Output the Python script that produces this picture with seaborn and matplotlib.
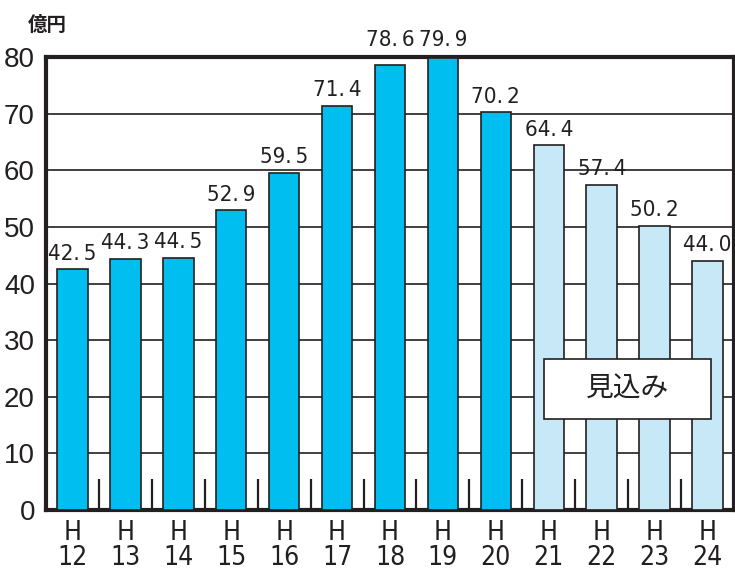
import pandas as pd
import matplotlib.pyplot as plt
import seaborn as sns
from matplotlib.patches import Rectangle
from matplotlib import font_manager

# data (億円)
years = ["H\n12", "H\n13", "H\n14", "H\n15", "H\n16", "H\n17", "H\n18",
         "H\n19", "H\n20", "H\n21", "H\n22", "H\n23", "H\n24"]
values = [42.5, 44.3, 44.5, 52.9, 59.5, 71.4, 78.6, 79.9, 70.2, 64.4, 57.4, 50.2, 44.0]
status = ["実績"] * 9 + ["見込み"] * 4

df = pd.DataFrame({"year": years, "value": values, "status": status})

sns.set_style("white")
plt.rcParams["font.family"] = ["Liberation Sans", "DejaVu Sans"]

# condensed face for the numbers
cond = [f for f in font_manager.fontManager.ttflist
        if "DejaVuSansCondensed.ttf" in f.fname]
cond_fp = (font_manager.FontProperties(fname=cond[0].fname) if cond
           else font_manager.FontProperties(family="DejaVu Sans"))

fig = plt.figure(figsize=(7.35, 5.76), dpi=100)
ax = fig.add_axes([46 / 735, 66 / 576, 688 / 735, 453 / 576])

sns.barplot(data=df, x="year", y="value", hue="status",
            palette={"実績": "#00bef0", "見込み": "#c6e8f7"}, saturation=1,
            dodge=False, width=0.575, edgecolor="#231f20", linewidth=1.2,
            legend=False, ax=ax, zorder=3)

# value labels (the two tallest sit above the frame)
for i, v in enumerate(values):
    y = 81.3 if v > 75 else v + 1.0
    ax.text(i, y, f"{v:.1f}".replace(".", ".\u2009"), ha="center", va="bottom",
            fontproperties=cond_fp, fontsize=16, color="#231f20", zorder=4,
            clip_on=False)

ax.set_xlim(-0.5, len(years) - 0.5)
ax.set_ylim(0, 80)
ax.set_yticks(range(0, 81, 10))
ax.yaxis.grid(True, color="#231f20", linewidth=1.2, zorder=0)
ax.set_axisbelow(True)
for s in ax.spines.values():
    s.set_linewidth(3)
    s.set_color("#231f20")
    s.set_visible(True)

# short inner ticks between bars
ax.set_xticks([i + 0.5 for i in range(len(years) - 1)], minor=True)
ax.tick_params(axis="x", which="minor", direction="in", length=22, width=1.6,
               color="#231f20", bottom=True)
ax.tick_params(axis="x", which="major", length=0, pad=7)
ax.tick_params(axis="y", which="major", length=0, pad=8, labelsize=20,
               labelcolor="#231f20")
for lbl in ax.get_xticklabels():
    lbl.set_fontproperties(cond_fp)
    lbl.set_fontsize(19)
    lbl.set_linespacing(0.95)
    lbl.set_color("#231f20")
ax.set_xlabel("")
ax.set_ylabel("")

ax.text(-0.026, 1.048, "億円", transform=ax.transAxes, ha="left", va="bottom",
        fontsize=14, fontweight="bold", family=["Noto Sans CJK JP"],
        color="#231f20")

# 見込み box
ax.add_patch(Rectangle((8.915, 16.1), 3.15, 10.6, facecolor="white",
                       edgecolor="#231f20", linewidth=1.2, zorder=5))
ax.text(8.915 + 3.15 / 2, 16.1 + 10.6 / 2, "見込み", ha="center", va="center",
        fontsize=20, family=["Noto Sans CJK JP"], color="#231f20", zorder=6)

fig.savefig("out.png", dpi=100)
